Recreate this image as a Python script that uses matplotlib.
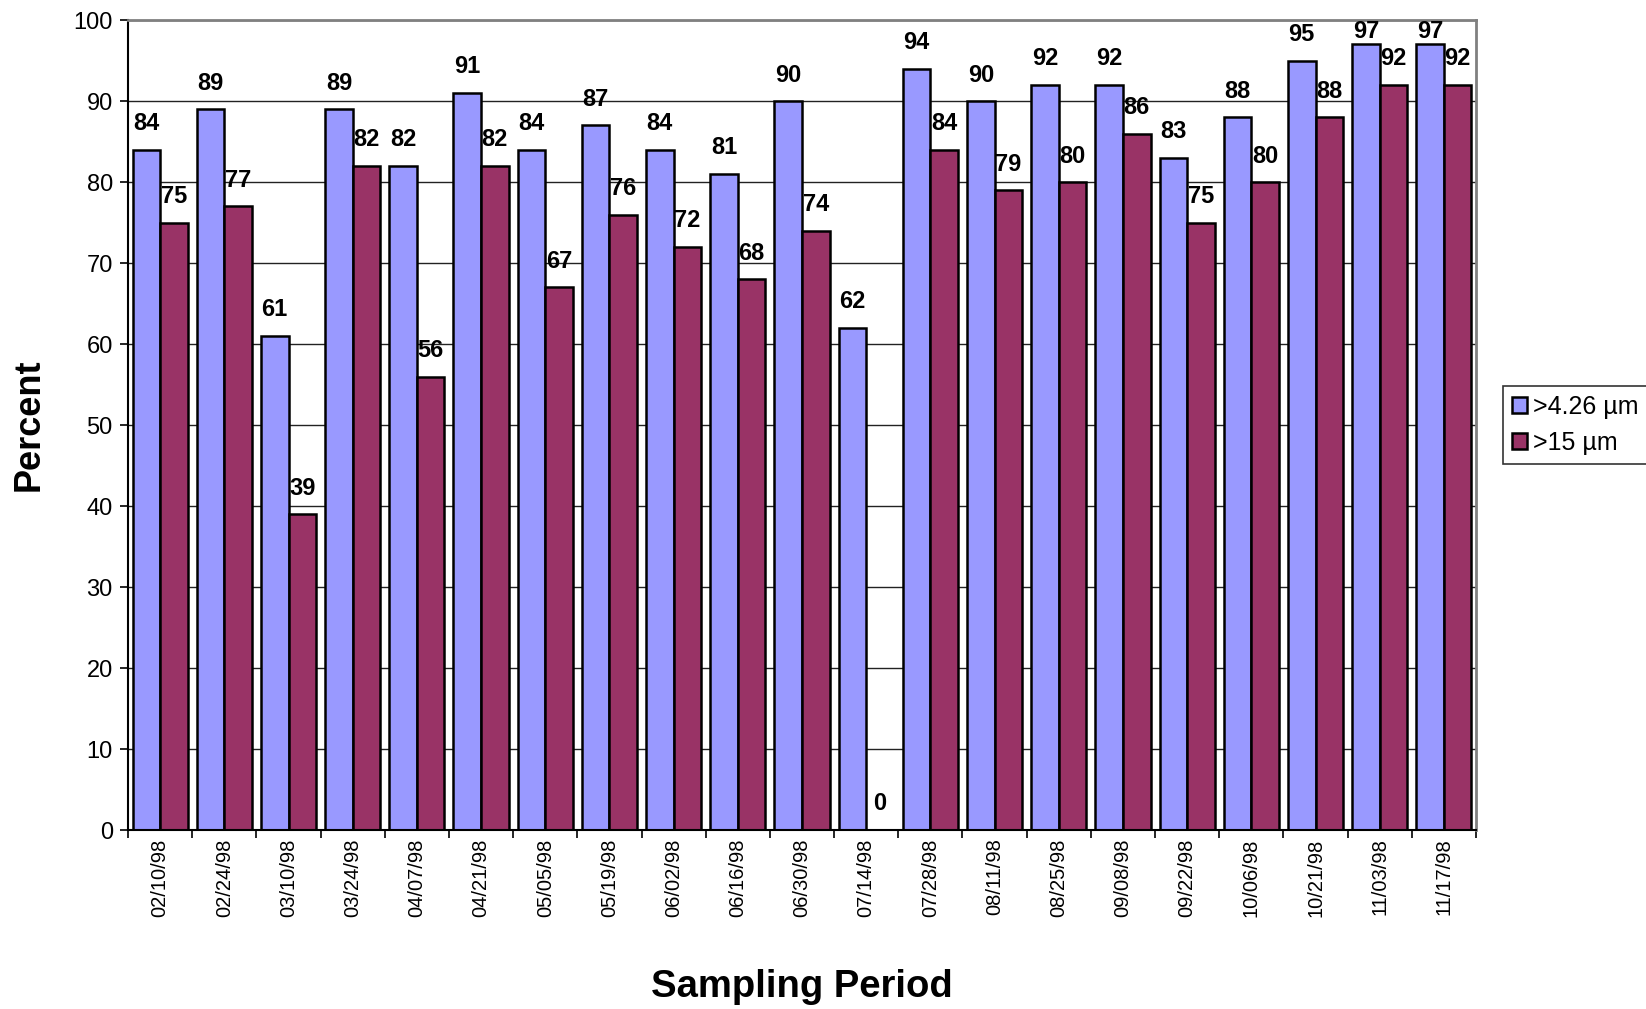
#!/usr/bin/env python3
import numpy as np
import matplotlib
matplotlib.use('Agg')
import matplotlib.pyplot as plt

plt.rcParams['font.family'] = ['Liberation Sans', 'DejaVu Sans']

# sampling dates and percentages
periods = ['02/10/98', '02/24/98', '03/10/98', '03/24/98', '04/07/98', '04/21/98',
           '05/05/98', '05/19/98', '06/02/98', '06/16/98', '06/30/98', '07/14/98',
           '07/28/98', '08/11/98', '08/25/98', '09/08/98', '09/22/98', '10/06/98',
           '10/21/98', '11/03/98', '11/17/98']
pct_426 = [84, 89, 61, 89, 82, 91, 84, 87, 84, 81, 90, 62, 94, 90, 92, 92, 83, 88, 95, 97, 97]
pct_15 = [75, 77, 39, 82, 56, 82, 67, 76, 72, 68, 74, 0, 84, 79, 80, 86, 75, 80, 88, 92, 92]
series_labels = ['>4.26 µm', '>15 µm']

fig = plt.figure(figsize=(16.46, 10.09), dpi=100)
ax = fig.add_axes([0.0778, 0.1774, 0.8189, 0.8026])

x = np.arange(len(periods))
w = 0.43
b1 = ax.bar(x - w/2, pct_426, w, color='#9999FF', edgecolor='black', linewidth=1.8,
            label=series_labels[0], zorder=2)
b2 = ax.bar(x + w/2, pct_15, w, color='#993366', edgecolor='black', linewidth=1.8,
            label=series_labels[1], zorder=2)

# value labels, kept inside the plot area
for rects in (b1, b2):
    for r in rects:
        h = r.get_height()
        y = min(h + 1.8, 97.2)
        ax.text(r.get_x() + r.get_width()/2, y, f'{int(h)}', ha='center', va='bottom',
                fontsize=17, fontweight='bold', zorder=3)

ax.set_ylim(0, 100)
ax.set_xlim(-0.5, len(periods) - 0.5)
ax.set_yticks(np.arange(0, 101, 10))
ax.yaxis.grid(True, color='#222222', linewidth=1.0, zorder=0)
ax.set_axisbelow(True)

ax.set_xticks(x)
ax.set_xticklabels(periods, rotation=90, fontsize=14.5)
ax.set_xticks(np.arange(-0.5, len(periods), 1), minor=True)
ax.tick_params(axis='x', which='major', length=0, pad=6)
ax.tick_params(axis='x', which='minor', length=6, width=1.2, direction='out')
ax.tick_params(axis='y', length=6, width=1.2, direction='out', labelsize=17, pad=5)

for s in ('top', 'right'):
    ax.spines[s].set_color('#808080')
    ax.spines[s].set_linewidth(2)
for s in ('left', 'bottom'):
    ax.spines[s].set_color('black')
    ax.spines[s].set_linewidth(1.5)

fig.text(0.0176, 0.579, 'Percent', rotation=90, ha='center', va='center',
         fontsize=26, fontweight='bold')
fig.text(0.487, 0.022, 'Sampling Period', ha='center', va='center',
         fontsize=27.5, fontweight='bold')

leg = fig.legend(handles=[b1, b2], loc='upper left', bbox_to_anchor=(0.913, 0.6175),
                 fontsize=18, frameon=True, fancybox=False, edgecolor='black',
                 handlelength=0.6, handleheight=0.6, handletextpad=0.25,
                 borderpad=0.35, labelspacing=0.5, borderaxespad=0)
leg.get_frame().set_linewidth(1.2)

fig.savefig('out.png', dpi=100)
